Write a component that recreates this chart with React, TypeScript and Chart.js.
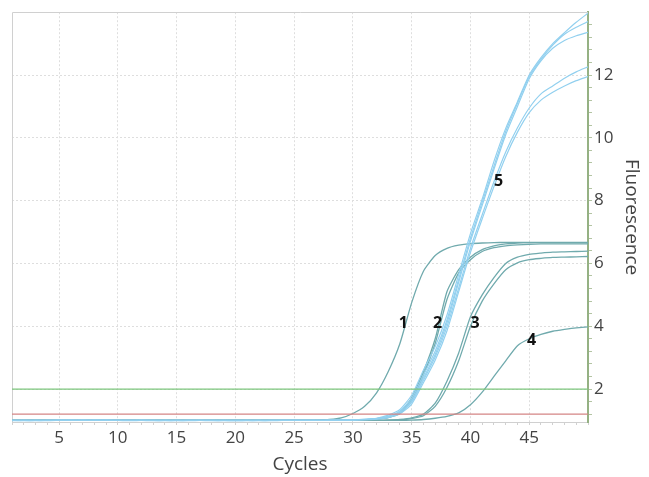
import React, { useEffect, useRef } from 'react';
import { Chart, registerables } from 'chart.js';

Chart.register(...registerables);

// ---- data ----
const cycles = [1, 2, 3, 4, 5, 6, 7, 8, 9, 10, 11, 12, 13, 14, 15, 16, 17, 18, 19, 20, 21, 22, 23, 24, 25, 26, 27, 28, 29, 30, 31, 32, 33, 34, 35, 36, 37, 38, 39, 40, 41, 42, 43, 44, 45, 46, 47, 48, 49, 50];
const xTickLabels = [5, 10, 15, 20, 25, 30, 35, 40, 45];
const yTickValues = [1.2, 1.6, 2, 2.4, 2.8, 3.2, 3.6, 4, 4.4, 4.8, 5.2, 5.6, 6, 6.4, 6.8, 7.2, 7.6, 8, 8.4, 8.8, 9.2, 9.6, 10, 10.4, 10.8, 11.2, 11.6, 12, 12.4, 12.8, 13.2, 13.6];
const yTickLabels = [2, 4, 6, 8, 10, 12];
const thresholdGreen = 2.0;
const thresholdRed = 1.2;

// group 5 (light blue)
const blue5a = [1.00, 1.00, 0.99, 1.00, 1.01, 1.01, 1.00, 1.01, 1.01, 1.00, 1.00, 1.01, 1.00, 1.00, 0.99, 1.00, 1.00, 1.00, 0.99, 0.99, 0.99, 1.00, 1.00, 1.00, 1.00, 1.00, 1.00, 1.01, 1.01, 1.02, 1.04, 1.07, 1.17, 1.35, 1.80, 2.60, 3.35, 4.35, 5.65, 6.95, 8.05, 9.25, 10.30, 11.15, 12.00, 12.55, 13.00, 13.35, 13.68, 13.97];
const blue5b = [1.00, 0.99, 1.00, 1.00, 1.01, 1.00, 1.01, 1.00, 1.00, 1.00, 1.00, 1.00, 1.00, 0.99, 1.00, 1.00, 1.00, 0.99, 1.00, 1.00, 1.00, 1.00, 1.00, 1.00, 1.00, 1.00, 1.00, 1.01, 1.01, 1.02, 1.03, 1.06, 1.13, 1.30, 1.70, 2.45, 3.20, 4.20, 5.50, 6.80, 7.95, 9.10, 10.20, 11.10, 11.95, 12.50, 12.95, 13.30, 13.52, 13.70];
const blue5c = [1.00, 1.00, 1.00, 0.99, 1.00, 1.01, 1.00, 1.00, 1.01, 1.00, 1.00, 1.00, 1.00, 1.00, 1.00, 0.99, 1.00, 1.00, 1.00, 1.00, 1.00, 1.00, 0.99, 1.00, 1.00, 1.00, 1.00, 1.00, 1.01, 1.02, 1.03, 1.06, 1.12, 1.27, 1.63, 2.35, 3.10, 4.10, 5.40, 6.70, 7.85, 9.00, 10.10, 11.00, 11.88, 12.45, 12.85, 13.10, 13.25, 13.36];
const blue5d = [1.00, 1.00, 1.00, 1.00, 1.00, 1.00, 1.01, 1.00, 1.00, 1.00, 0.99, 1.00, 1.00, 1.00, 1.00, 1.00, 1.00, 1.00, 1.00, 0.99, 1.00, 1.00, 1.00, 1.00, 1.00, 1.00, 1.00, 1.00, 1.01, 1.02, 1.03, 1.05, 1.10, 1.24, 1.58, 2.28, 3.02, 3.98, 5.22, 6.48, 7.55, 8.60, 9.55, 10.32, 10.95, 11.40, 11.65, 11.90, 12.10, 12.26];
const blue5e = [0.99, 1.00, 1.00, 1.00, 1.00, 1.00, 1.00, 1.01, 1.00, 1.00, 1.00, 1.00, 0.99, 1.00, 1.00, 1.00, 1.00, 1.00, 1.00, 1.00, 1.00, 0.99, 1.00, 1.00, 1.00, 1.00, 1.00, 1.00, 1.01, 1.01, 1.02, 1.04, 1.09, 1.21, 1.52, 2.20, 2.92, 3.85, 5.10, 6.35, 7.42, 8.45, 9.40, 10.18, 10.80, 11.20, 11.45, 11.65, 11.82, 11.95];

// groups 1-4 (teal)
const teal1 = [1.00, 1.00, 1.00, 1.00, 1.00, 1.00, 1.00, 1.00, 1.00, 1.00, 1.00, 1.00, 1.00, 1.00, 1.00, 1.00, 1.00, 1.00, 1.00, 1.00, 1.00, 1.00, 1.00, 1.00, 1.00, 1.00, 1.01, 1.03, 1.08, 1.22, 1.45, 1.87, 2.55, 3.45, 4.75, 5.75, 6.25, 6.48, 6.58, 6.63, 6.65, 6.66, 6.67, 6.67, 6.67, 6.67, 6.67, 6.67, 6.67, 6.67];
const teal2a = [1.00, 1.00, 1.00, 1.00, 1.00, 1.00, 1.00, 1.00, 1.00, 1.00, 1.00, 1.00, 1.00, 1.00, 1.00, 1.00, 1.00, 1.00, 1.00, 1.00, 1.00, 1.00, 1.00, 1.00, 1.00, 1.00, 1.00, 1.00, 1.00, 1.01, 1.02, 1.05, 1.10, 1.25, 1.72, 2.55, 3.60, 5.10, 5.80, 6.20, 6.44, 6.56, 6.62, 6.65, 6.66, 6.66, 6.66, 6.66, 6.66, 6.66];
const teal2b = [1.00, 1.00, 1.00, 1.00, 1.00, 1.00, 1.00, 1.00, 1.00, 1.00, 1.00, 1.00, 1.00, 1.00, 1.00, 1.00, 1.00, 1.00, 1.00, 1.00, 1.00, 1.00, 1.00, 1.00, 1.00, 1.00, 1.00, 1.00, 1.00, 1.01, 1.02, 1.04, 1.09, 1.22, 1.65, 2.45, 3.45, 4.85, 5.70, 6.12, 6.38, 6.50, 6.56, 6.59, 6.61, 6.62, 6.62, 6.62, 6.62, 6.62];
const teal3a = [1.00, 1.00, 1.00, 1.00, 1.00, 1.00, 1.00, 1.00, 1.00, 1.00, 1.00, 1.00, 1.00, 1.00, 1.00, 1.00, 1.00, 1.00, 1.00, 1.00, 1.00, 1.00, 1.00, 1.00, 1.00, 1.00, 1.00, 1.00, 1.00, 1.00, 1.00, 1.00, 1.01, 1.03, 1.08, 1.20, 1.55, 2.25, 3.15, 4.30, 5.00, 5.55, 6.00, 6.20, 6.29, 6.33, 6.36, 6.37, 6.38, 6.39];
const teal3b = [1.00, 1.00, 1.00, 1.00, 1.00, 1.00, 1.00, 1.00, 1.00, 1.00, 1.00, 1.00, 1.00, 1.00, 1.00, 1.00, 1.00, 1.00, 1.00, 1.00, 1.00, 1.00, 1.00, 1.00, 1.00, 1.00, 1.00, 1.00, 1.00, 1.00, 1.00, 1.00, 1.01, 1.02, 1.06, 1.15, 1.45, 2.05, 2.90, 4.00, 4.80, 5.35, 5.80, 6.02, 6.12, 6.16, 6.19, 6.20, 6.21, 6.22];
const teal4 = [1.00, 1.00, 1.00, 1.00, 1.00, 1.00, 1.00, 1.00, 1.00, 1.00, 1.00, 1.00, 1.00, 1.00, 1.00, 1.00, 1.00, 1.00, 1.00, 1.00, 1.00, 1.00, 1.00, 1.00, 1.00, 1.00, 1.00, 1.00, 1.00, 1.00, 1.00, 1.00, 1.00, 1.00, 1.01, 1.03, 1.07, 1.13, 1.24, 1.50, 1.90, 2.40, 2.90, 3.38, 3.60, 3.74, 3.84, 3.90, 3.95, 3.98];

const markerTexts = ['1', '2', '3', '4', '5'];
const markerCycles = [34.3, 37.2, 40.4, 45.2, 42.4];
const markerValues = [4.1, 4.1, 4.1, 3.55, 8.6];

const blueCurves = [blue5a, blue5b, blue5c, blue5d, blue5e];
const tealCurves = [teal1, teal2a, teal2b, teal3a, teal3b, teal4];

// ---- styles ----
const FONT = "'Open Sans', 'Noto Sans', sans-serif";
const BLUE = '#92d0ef';
const TEAL = '#70aaad';
const GREEN_LINE = '#7cc67c';
const RED_LINE = '#d48585';
const GRID = '#dedede';

const toPoints = (vals: number[]) => vals.map((v, i) => ({ x: cycles[i], y: v }));

const framePlugin = {
  id: 'frame',
  beforeDatasetsDraw(chart: any) {
    const { ctx, chartArea: a } = chart;
    ctx.save();
    ctx.strokeStyle = '#d0d0d0';
    ctx.lineWidth = 1;
    ctx.beginPath();
    ctx.moveTo(Math.round(a.left) + 0.5, a.bottom);
    ctx.lineTo(Math.round(a.left) + 0.5, Math.round(a.top) + 0.5);
    ctx.lineTo(a.right, Math.round(a.top) + 0.5);
    ctx.stroke();
    ctx.restore();
  },
  afterDatasetsDraw(chart: any) {
    const { ctx, scales } = chart;
    ctx.save();
    ctx.fillStyle = '#111';
    ctx.font = `bold 16px ${FONT}`;
    ctx.textAlign = 'center';
    ctx.textBaseline = 'middle';
    markerTexts.forEach((t, i) => {
      ctx.fillText(t, scales.x.getPixelForValue(markerCycles[i]), scales.y.getPixelForValue(markerValues[i]));
    });
    ctx.restore();
  },
};

export default function App() {
  const canvasRef = useRef<HTMLCanvasElement | null>(null);

  useEffect(() => {
    if (!canvasRef.current) return;
    const datasets: any[] = [
      {
        data: [{ x: cycles[0], y: thresholdGreen }, { x: cycles[cycles.length - 1], y: thresholdGreen }],
        borderColor: GREEN_LINE, borderWidth: 1.3, pointRadius: 0, order: 0,
      },
      {
        data: [{ x: cycles[0], y: thresholdRed }, { x: cycles[cycles.length - 1], y: thresholdRed }],
        borderColor: RED_LINE, borderWidth: 1.3, pointRadius: 0, order: 0,
      },
      ...blueCurves.map((c) => ({
        data: toPoints(c), borderColor: BLUE, borderWidth: 1.2, pointRadius: 0, tension: 0.2, order: 1,
      })),
      ...tealCurves.map((c) => ({
        data: toPoints(c), borderColor: TEAL, borderWidth: 1.3, pointRadius: 0, tension: 0.2, order: 2,
      })),
    ];

    const chart = new Chart(canvasRef.current, {
      type: 'line',
      data: { datasets },
      plugins: [framePlugin],
      options: {
        animation: false,
        responsive: true,
        maintainAspectRatio: false,
        layout: { padding: { left: 12, top: 7, right: 0, bottom: 0 } },
        plugins: { legend: { display: false }, tooltip: { enabled: false } },
        scales: {
          x: {
            type: 'linear',
            min: 1,
            max: 50,
            afterBuildTicks: (axis: any) => {
              axis.ticks = cycles.map((v) => ({ value: v }));
            },
            afterFit: (axis: any) => {
              axis.height = 55;
            },
            ticks: {
              autoSkip: false,
              maxRotation: 0,
              padding: 3,
              color: '#444',
              font: { family: FONT, size: 17 },
              callback: (value: any) => (xTickLabels.includes(Number(value)) ? String(value) : ''),
            },
            grid: {
              color: (ctx: any) => (ctx.tick && xTickLabels.includes(ctx.tick.value) ? GRID : 'rgba(0,0,0,0)'),
              tickColor: '#d0d0d0',
              tickLength: 3,
              lineWidth: 1,
            },
            border: { display: true, color: '#d0d0d0', width: 1, dash: [2, 2] },
            title: {
              display: true,
              text: 'Cycles',
              color: '#444',
              font: { family: FONT, size: 19 },
              padding: { top: 0, bottom: 1 },
            },
          },
          y: {
            type: 'linear',
            position: 'right',
            min: 0.95,
            max: 14,
            afterBuildTicks: (axis: any) => {
              axis.ticks = yTickValues.map((v) => ({ value: v }));
            },
            afterFit: (axis: any) => {
              axis.width = 61;
            },
            ticks: {
              autoSkip: false,
              padding: 2,
              color: '#444',
              font: { family: FONT, size: 17 },
              callback: (value: any) => (yTickLabels.includes(Number(value)) ? String(value) : ''),
            },
            grid: {
              color: (ctx: any) => (ctx.tick && yTickLabels.includes(ctx.tick.value) ? GRID : 'rgba(0,0,0,0)'),
              tickColor: '#b3c4a3',
              tickLength: 4,
              lineWidth: 1,
            },
            border: { display: true, color: '#95b183', width: 2, dash: [2, 2] },
            title: {
              display: true,
              text: 'Fluorescence',
              color: '#444',
              font: { family: FONT, size: 19 },
              padding: { top: 6, bottom: 0 },
            },
          },
        },
      } as any,
    });

    return () => chart.destroy();
  }, []);

  return (
    <div style={{ position: 'absolute', left: 0, top: 0, width: 649, height: 477 }}>
      <canvas ref={canvasRef} />
    </div>
  );
}
